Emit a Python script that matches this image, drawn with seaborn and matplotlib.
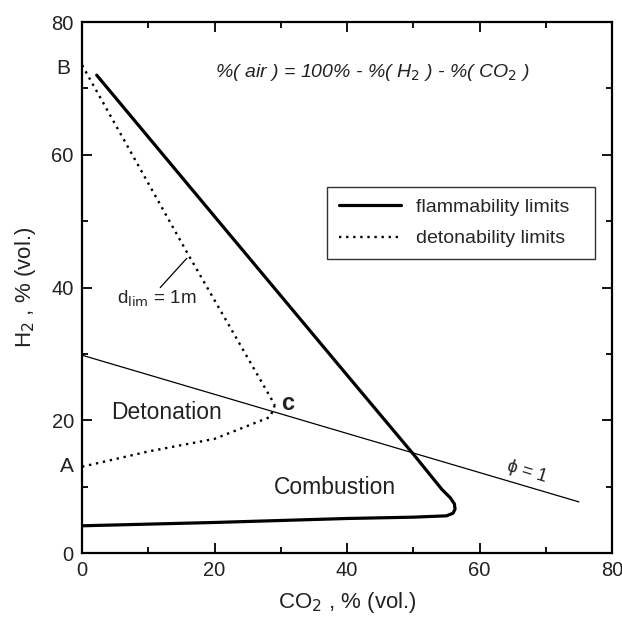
import numpy as np
import pandas as pd
import seaborn as sns
import matplotlib.pyplot as plt
import matplotlib.transforms as mtransforms
from matplotlib.ticker import MultipleLocator

sns.set_theme(style="ticks")
plt.rcParams['font.family'] = ['Liberation Sans', 'DejaVu Sans']

# flammability limit curve (upper branch, nose, lower branch)
flam_co2 = [2.2, 20.0, 40.0, 50.0, 54.3, 55.6, 56.2, 56.3, 56.0, 55.0, 50.0, 40.0, 20.0, 0.0]
flam_h2 = [72.0, 50.7, 26.8, 14.9, 9.6, 8.3, 7.4, 6.6, 6.0, 5.6, 5.4, 5.2, 4.6, 4.1]

# detonability limit curve: B -> C and A -> C
det_bc_co2 = [0.0, 16.0, 29.1]
det_bc_h2 = [73.5, 45.0, 22.3]
det_ac_co2 = [0.0, 10.0, 20.0, 28.4, 29.1]
det_ac_h2 = [13.0, 15.3, 17.2, 20.5, 22.3]

# stoichiometric line phi = 1
phi_co2 = [0.0, 75.0]
phi_h2 = [29.8, 7.7]

flam = pd.DataFrame({"co2": flam_co2, "h2": flam_h2})
det_bc = pd.DataFrame({"co2": det_bc_co2, "h2": det_bc_h2})
det_ac = pd.DataFrame({"co2": det_ac_co2, "h2": det_ac_h2})
phi = pd.DataFrame({"co2": phi_co2, "h2": phi_h2})

fig = plt.figure(figsize=(6.22, 6.21), dpi=100)
ax = fig.add_axes([0.132, 0.1095, 0.852, 0.855])

sns.lineplot(data=flam, x="co2", y="h2", sort=False, estimator=None, color="black",
             linewidth=2.3, ax=ax, label="flammability limits")
sns.lineplot(data=det_bc, x="co2", y="h2", sort=False, estimator=None, color="black",
             linewidth=1.7, linestyle=(0, (1, 2)), ax=ax, label="detonability limits")
sns.lineplot(data=det_ac, x="co2", y="h2", sort=False, estimator=None, color="black",
             linewidth=1.7, linestyle=(0, (1, 2)), ax=ax, legend=False)
sns.lineplot(data=phi, x="co2", y="h2", sort=False, estimator=None, color="black",
             linewidth=0.9, ax=ax, legend=False)

# pointer for d_lim label
ax.plot([15.8, 11.8], [44.4, 40.0], color="black", linewidth=0.9)

ax.set_xlim(0, 80)
ax.set_ylim(0, 80)
ax.xaxis.set_major_locator(MultipleLocator(20))
ax.yaxis.set_major_locator(MultipleLocator(20))
ax.xaxis.set_minor_locator(MultipleLocator(10))
ax.yaxis.set_minor_locator(MultipleLocator(10))
ax.tick_params(which="both", direction="in", top=True, right=True, width=1.3, colors="black",
               labelsize=14.5, pad=6)
ax.tick_params(which="both", labelcolor="#222222")
ax.tick_params(which="major", length=7)
ax.tick_params(which="minor", length=4)
for s in ax.spines.values():
    s.set_linewidth(1.6)
    s.set_color("black")

ax.set_xlabel("CO$_2$ , % (vol.)", fontsize=16, color="#222222", labelpad=7)
ax.set_ylabel("H$_2$ , % (vol.)", fontsize=16, color="#222222", labelpad=10)

tc = "#222222"
ax.text(-2.9, 73, "B", fontsize=15, ha="center", va="center", color=tc, clip_on=False)
ax.text(-2.3, 13, "A", fontsize=15, ha="center", va="center", color=tc, clip_on=False)
ax.text(20, 72.4, "%( air ) = 100% - %( H$_2$ ) - %( CO$_2$ )", fontsize=14,
        style="italic", ha="left", va="center", color=tc)
ax.text(5.3, 38.3, "d$_{\\mathrm{lim}}$ = 1m", fontsize=13.5, ha="left", va="center", color=tc)
ax.text(12.7, 21.1, "Detonation", fontsize=16.5, ha="center", va="center", color=tc)
ax.text(38.2, 9.9, "Combustion", fontsize=16.5, ha="center", va="center", color=tc)
ax.text(31.0, 22.6, "c", fontsize=17, fontweight="bold", ha="center", va="center", color=tc)
ax.text(67.2, 12.2, "\u03d5 = 1", fontsize=13, rotation=-17, ha="center", va="center", color=tc)

leg = ax.legend(loc="center", bbox_to_anchor=(0.462, 0.552, 0.506, 0.139), mode="expand",
                fontsize=14, frameon=True, fancybox=False, edgecolor="black",
                handlelength=3.2, borderpad=0.6, labelspacing=0.7, borderaxespad=0)
leg.get_frame().set_linewidth(1.0)

# keep the last x tick label inside the figure
fig.canvas.draw()
last = ax.get_xticklabels()[-1]
last.set_transform(last.get_transform() + mtransforms.ScaledTranslation(-0.03, 0, fig.dpi_scale_trans))

fig.savefig("out.png", dpi=100)
